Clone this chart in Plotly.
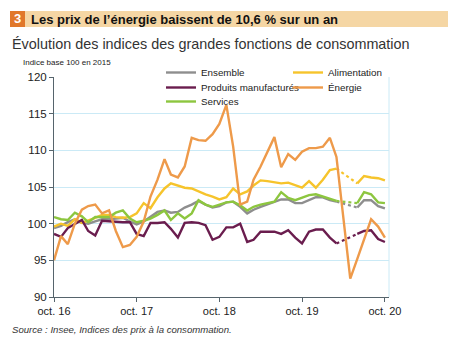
import plotly.graph_objects as go
import pandas as pd

# ---- data (monthly, Oct 2016 -> Oct 2020) ----
months = pd.date_range("2016-10-01", periods=49, freq="MS")

ensemble = [99.4, 99.7, 100.2, 100.6, 100.1, 100.0, 100.3, 100.6, 100.6, 100.7,
            100.8, 100.3, 99.9, 100.3, 100.9, 101.6, 101.8, 101.5, 101.6, 102.2,
            102.6, 103.1, 102.6, 102.2, 102.4, 102.9, 103.0, 102.3, 101.4, 101.9,
            102.3, 102.6, 103.0, 103.3, 103.3, 102.8, 102.8, 103.2, 103.6, 103.6,
            103.2, 103.0, None, None, 102.2, 103.2, 103.2, 102.4, 102.1]

alimentation = [99.6, 100.0, 99.7, 100.6, 100.1, 100.4, 100.8, 101.2, 101.2, 100.9,
                100.8, 100.9, 101.4, 102.8, 102.1, 103.6, 104.8, 105.5, 105.2, 104.9,
                104.8, 104.4, 104.0, 103.7, 103.3, 103.6, 104.8, 104.0, 104.4, 105.2,
                105.9, 105.8, 105.6, 105.5, 105.6, 105.2, 104.9, 105.8, 104.9, 106.0,
                107.3, 107.5, None, None, 105.5, 106.5, 106.3, 106.2, 105.9]

manufactures = [98.6, 98.2, 99.4, 100.0, 100.5, 99.0, 98.4, 100.4, 100.3, 100.3,
                100.2, 100.2, 98.6, 98.3, 100.1, 100.1, 100.2, 99.3, 98.1, 100.1,
                100.2, 100.1, 99.8, 97.8, 98.2, 99.5, 99.5, 100.0, 97.5, 97.8,
                98.9, 98.9, 98.9, 98.6, 99.1, 98.1, 97.3, 98.9, 99.2, 99.2,
                98.1, 97.3, None, None, 98.6, 99.0, 99.1, 97.9, 97.5]

energie = [95.0, 98.3, 97.2, 100.0, 101.9, 102.4, 102.6, 101.4, 101.8, 99.0,
           96.8, 97.1, 98.2, 100.3, 103.7, 106.0, 108.8, 106.7, 106.3, 107.8,
           111.7, 111.4, 111.3, 112.2, 113.6, 116.2, 110.5, 102.6, 103.0, 106.0,
           107.8, 109.8, 111.8, 107.7, 109.5, 108.7, 109.8, 110.3, 110.3, 110.5,
           111.7, 109.1, 101.0, 92.5, 95.2, 98.0, 100.6, 99.6, 98.1]

services = [100.9, 100.6, 100.5, 101.5, 101.0, 100.2, 100.9, 100.9, 100.9, 101.5,
            101.8, 100.7, 100.2, 100.4, 100.7, 101.2, 101.8, 100.5, 101.4, 100.7,
            101.4, 103.2, 102.6, 102.3, 102.6, 102.9, 103.0, 102.5, 101.8, 102.3,
            102.6, 102.8, 103.0, 104.3, 103.5, 103.2, 103.5, 103.9, 104.0, 103.7,
            103.3, 103.1, None, None, 102.8, 104.3, 104.0, 102.9, 102.8]

tick_dates = ["2016-10-01", "2017-10-01", "2018-10-01", "2019-10-01", "2020-10-01"]
tick_labels = ["oct. 16", "oct. 17", "oct. 18", "oct. 19", "oct. 20"]
y_ticks = [90, 95, 100, 105, 110, 115, 120]

gap_ends = (41, 44)  # months bridged by a dotted line (missing values in between)

FONT = "Liberation Sans, Arial, Helvetica, sans-serif"
W, H = 465, 342
L, R, T, B = 54, 76, 77, 45
PW, PH = W - L - R, H - T - B


def px(x):
    return (x - L) / PW


def py(y):
    return (H - B - y) / PH


fig = go.Figure()

# (name, values, colour, legend row, has dotted gap)
series = [
    ("Ensemble", ensemble, "#8E8E8E", "legend", True),
    ("Alimentation", alimentation, "#F6C42C", "legend", True),
    ("Produits manufacturés", manufactures, "#6A1D4E", "legend2", True),
    ("Services", services, "#8DC63F", "legend3", True),
    ("Énergie", energie, "#EE9A4A", "legend2", False),
]
legend_rank = {"Ensemble": 1, "Alimentation": 2, "Produits manufacturés": 1,
               "Énergie": 2, "Services": 1}

for name, vals, col, leg, has_gap in series:
    fig.add_trace(go.Scatter(
        x=months, y=vals, mode="lines", name=name,
        line=dict(color=col, width=2.4), connectgaps=False,
        legend=leg, legendrank=legend_rank[name], hoverinfo="skip"))
    if has_gap:
        dotted = [v if i in gap_ends else None for i, v in enumerate(vals)]
        fig.add_trace(go.Scatter(
            x=months, y=dotted, mode="lines", showlegend=False,
            line=dict(color=col, width=2.2, dash="dot"), connectgaps=True,
            hoverinfo="skip"))

axis_col = "#56646C"
grid_col = "#CBEAF6"


def row_legend(top_px):
    return dict(
        x=px(161), y=py(top_px), xanchor="left", yanchor="top",
        orientation="h", entrywidth=82, entrywidthmode="pixels",
        bgcolor="rgba(0,0,0,0)", borderwidth=0,
        font=dict(size=9.8, color="#222222", family=FONT),
        itemwidth=30, traceorder="normal")


fig.update_layout(
    width=W, height=H,
    margin=dict(l=L, r=R, t=T, b=B, pad=0),
    paper_bgcolor="white", plot_bgcolor="white",
    font=dict(family=FONT, color="#222222", size=11),
    xaxis=dict(
        range=["2016-10-01", "2020-10-19"],
        tickvals=tick_dates, ticktext=tick_labels,
        showgrid=False, showline=True, linecolor=axis_col, linewidth=1,
        ticks="outside", ticklen=4, tickcolor=axis_col, tickwidth=1,
        tickfont=dict(size=11, color="#222222"), zeroline=False),
    yaxis=dict(
        range=[90, 120], tickvals=y_ticks,
        showgrid=True, gridcolor=grid_col, gridwidth=1,
        showline=True, linecolor=axis_col, linewidth=1,
        ticks="outside", ticklen=4, tickcolor=axis_col, tickwidth=1,
        tickfont=dict(size=11.5, color="#222222"), zeroline=False),
    legend=row_legend(58),
    legend2=row_legend(73),
    legend3=row_legend(87),
    showlegend=True,
)

shapes = [
    # title band
    dict(type="rect", xref="paper", yref="paper", x0=px(10), x1=px(448),
         y0=py(27), y1=py(11), fillcolor="#F5D6A4", line=dict(width=0), layer="below"),
    dict(type="rect", xref="paper", yref="paper", x0=px(10), x1=px(25),
         y0=py(27), y1=py(11), fillcolor="#E1782B", line=dict(width=0), layer="below"),
    # right frame line of plot area
    dict(type="line", xref="paper", yref="paper", x0=1, x1=1, y0=0, y1=1,
         line=dict(color=grid_col, width=1)),
]
fig.update_layout(shapes=shapes)

annotations = [
    dict(text="<b>3</b>", x=px(17.5), y=py(19), xanchor="center", yanchor="middle",
         font=dict(size=13, color="white", family=FONT)),
    dict(text="<b>Les prix de l’énergie baissent de 10,6 % sur un an</b>",
         x=px(29), y=py(19.5), xanchor="left", yanchor="middle",
         font=dict(size=13, color="#111111", family=FONT)),
    dict(text="Évolution des indices des grandes fonctions de consommation",
         x=px(10), y=py(44), xanchor="left", yanchor="middle",
         font=dict(size=14.4, color="#333333", family=FONT)),
    dict(text="Indice base 100 en 2015", x=px(21), y=py(62), xanchor="left",
         yanchor="middle", font=dict(size=8, color="#222222", family=FONT)),
    dict(text="<i>Source : Insee, Indices des prix à la consommation.</i>",
         x=px(10), y=py(329), xanchor="left", yanchor="middle",
         font=dict(size=9.6, color="#333333", family=FONT)),
]
for a in annotations:
    a.update(xref="paper", yref="paper", showarrow=False)
fig.update_layout(annotations=annotations)

fig.write_html("out.html")
